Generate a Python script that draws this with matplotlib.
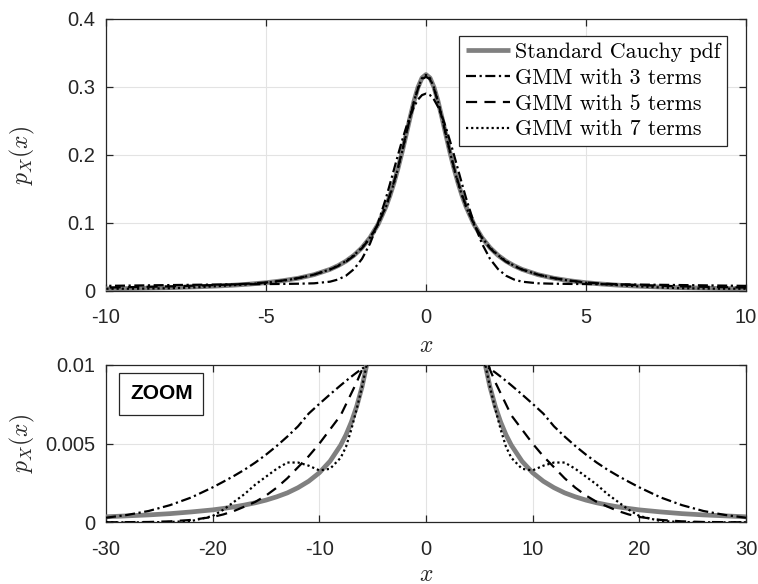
import numpy as np
import matplotlib
matplotlib.use("Agg")
import matplotlib.pyplot as plt
from matplotlib.patches import Rectangle

plt.rcParams['mathtext.fontset'] = 'cm'
plt.rcParams['font.family'] = ['Liberation Sans', 'DejaVu Sans']

# ---- data (x >= 0 half, curves are symmetric about x = 0) ----
x_half = [0, 0.125, 0.25, 0.375, 0.5, 0.625, 0.75, 0.875, 1, 1.125, 1.25, 1.5, 1.75,
          2, 2.25, 2.5, 2.75, 3, 3.5, 4, 4.5,
          5, 5.5, 6, 6.5, 7, 7.5, 8, 9, 10, 11, 12, 13, 14, 15, 16, 17, 18, 19, 20,
          22, 24, 26, 28, 30]
cauchy_half = [0.3183, 0.3134, 0.2996, 0.2791, 0.2546, 0.2289, 0.2037, 0.1803, 0.1592,
               0.1405, 0.1242, 0.0979, 0.0784, 0.0637,
               0.0525, 0.0439, 0.0372, 0.0318, 0.0240, 0.0187, 0.0150, 0.01224, 0.01019,
               0.00860, 0.00736, 0.00637, 0.00556, 0.00490, 0.00388, 0.00315, 0.00261,
               0.00220, 0.00187, 0.00162, 0.00141, 0.00124, 0.00110, 0.00098, 0.00088,
               0.00079, 0.00066, 0.00055, 0.00047, 0.00041, 0.00035]
gmm3_half = [0.2903, 0.2881, 0.2815, 0.2710, 0.2569, 0.2399, 0.2207, 0.2001, 0.1788,
             0.1576, 0.1369, 0.0997, 0.0697, 0.0473,
             0.0322, 0.0225, 0.0169, 0.0137, 0.0113, 0.0107, 0.0104, 0.0102, 0.0100,
             0.00976, 0.00952, 0.00926, 0.00899, 0.00871, 0.00813, 0.00753, 0.00691,
             0.00610, 0.00545, 0.00485, 0.00430, 0.00380, 0.00335, 0.00295, 0.00258,
             0.00222, 0.00158, 0.00109, 0.00072, 0.00047, 0.00029]
gmm5_half = [0.3150, 0.3114, 0.2975, 0.2784, 0.2545, 0.2295, 0.2050, 0.1815, 0.1605,
             0.1418, 0.1250, 0.0980, 0.0780, 0.0630,
             0.0518, 0.0432, 0.0367, 0.0316, 0.0241, 0.0189, 0.0153, 0.0125, 0.0109,
             0.0097, 0.0089, 0.0082, 0.0075, 0.0068, 0.0059, 0.0050, 0.0042, 0.0035,
             0.0028, 0.0022, 0.0017, 0.0013, 0.0010, 0.00072, 0.00050, 0.00034,
             0.00015, 0.00006, 0.00002, 0.00001, 0.0]
gmm7_half = [0.3178, 0.3130, 0.2990, 0.2788, 0.2548, 0.2290, 0.2040, 0.1803, 0.1590,
             0.1404, 0.1240, 0.0978, 0.0784, 0.0638,
             0.0526, 0.0440, 0.0372, 0.0318, 0.0240, 0.0187, 0.0150, 0.0122, 0.0102,
             0.0086, 0.0072, 0.0059, 0.0048, 0.0041, 0.0034, 0.0033, 0.0036, 0.0038,
             0.0038, 0.0034, 0.0029, 0.0024, 0.0018, 0.0013, 0.0008, 0.0004,
             0.00008, 0.00002, 0.0, 0.0, 0.0]

legend_labels = ['Standard Cauchy pdf', 'GMM with 3 terms', 'GMM with 5 terms', 'GMM with 7 terms']
top_xticks = [-10, -5, 0, 5, 10]
top_xticklabels = ['-10', '-5', '0', '5', '10']
top_yticks = [0, 0.1, 0.2, 0.3, 0.4]
top_yticklabels = ['0', '0.1', '0.2', '0.3', '0.4']
bot_xticks = [-30, -20, -10, 0, 10, 20, 30]
bot_xticklabels = ['-30', '-20', '-10', '0', '10', '20', '30']
bot_yticks = [0, 0.005, 0.01]
bot_yticklabels = ['0', '0.005', '0.01']


def mirror(xh, yh):
    xh = np.asarray(xh, float)
    yh = np.asarray(yh, float)
    return np.concatenate([-xh[:0:-1], xh]), np.concatenate([yh[:0:-1], yh])


x, cauchy = mirror(x_half, cauchy_half)
_, gmm3 = mirror(x_half, gmm3_half)
_, gmm5 = mirror(x_half, gmm5_half)
_, gmm7 = mirror(x_half, gmm7_half)

W, H = 758, 584
fig = plt.figure(figsize=(W / 100, H / 100), dpi=100)
ax1 = fig.add_axes([106 / W, 1 - 291 / H, 640 / W, 272 / H])
ax2 = fig.add_axes([106 / W, 1 - 522.3 / H, 640 / W, 157.3 / H])

axcol = '#262626'
gray = '#808080'


def draw(ax):
    ax.plot(x, cauchy, color=gray, lw=3.4, solid_capstyle='butt', solid_joinstyle='round',
            label=legend_labels[0], zorder=3)
    ax.plot(x, gmm3, color='black', lw=1.6, linestyle=(0, (4.5, 1.6, 1.0, 1.6)), label=legend_labels[1], zorder=4)
    ax.plot(x, gmm5, color='black', lw=1.6, linestyle=(0, (5, 3.3)), label=legend_labels[2], zorder=4)
    ax.plot(x, gmm7, color='black', lw=1.6, linestyle=(0, (1, 1.3)), label=legend_labels[3], zorder=4)
    ax.grid(True, color='#e3e3e3', lw=0.8, zorder=0)
    ax.set_axisbelow(True)
    for s in ax.spines.values():
        s.set_color(axcol)
        s.set_linewidth(0.9)
    ax.tick_params(direction='in', top=True, right=True, length=5, width=0.9,
                   color=axcol, labelcolor=axcol, labelsize=14.5)
    ax.tick_params(axis='x', pad=12.5)
    ax.tick_params(axis='y', pad=8)


draw(ax1)
ax1.set_xlim(-10, 10)
ax1.set_ylim(0, 0.4)
ax1.set_xticks(top_xticks)
ax1.set_xticklabels(top_xticklabels)
ax1.set_yticks(top_yticks)
ax1.set_yticklabels(top_yticklabels)
ax1.set_xlabel(r'$x$', fontsize=17, color=axcol)
ax1.set_ylabel(r'$p_X(x)$', fontsize=17, color=axcol)
ax1.xaxis.set_label_coords(0.5, -0.16)
ax1.yaxis.set_label_coords(-0.108, 0.5)

leg = ax1.legend(loc='upper right', bbox_to_anchor=(0.9703, 0.9386), borderaxespad=0,
                 prop={'family': 'cmr10', 'size': 15.8}, frameon=True, fancybox=False,
                 framealpha=1, edgecolor=axcol, handlelength=2.0, handletextpad=0.25,
                 borderpad=0.3, labelspacing=0.29)
leg.get_frame().set_linewidth(0.9)

draw(ax2)
ax2.set_xlim(-30, 30)
ax2.set_ylim(0, 0.01)
ax2.set_xticks(bot_xticks)
ax2.set_xticklabels(bot_xticklabels)
ax2.set_yticks(bot_yticks)
ax2.set_yticklabels(bot_yticklabels)
ax2.set_xlabel(r'$x$', fontsize=17, color=axcol)
ax2.set_ylabel(r'$p_X(x)$', fontsize=17, color=axcol)
ax2.xaxis.set_label_coords(0.5, -0.262)
ax2.yaxis.set_label_coords(-0.108, 0.5)

ax2.add_patch(Rectangle((0.0208, 0.682), 0.1312, 0.269, transform=ax2.transAxes,
                        facecolor='white', edgecolor=axcol, lw=0.9, zorder=6))
ax2.text(0.0864, 0.816, 'ZOOM', transform=ax2.transAxes, ha='center', va='center',
         fontsize=15, fontweight='bold', color='black', zorder=7)

fig.savefig('out.png', dpi=100)
